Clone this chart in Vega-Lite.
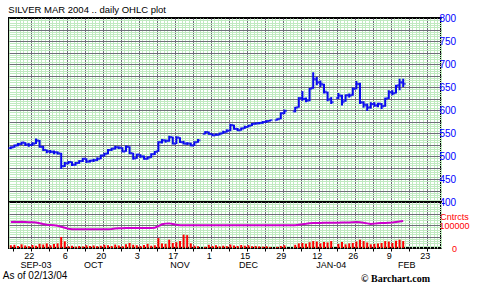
{
  "$schema": "https://vega.github.io/schema/vega-lite/v6.json",
  "background": "white",
  "padding": {"left": 1, "top": 3, "right": 0, "bottom": 0},
  "spacing": 0,
  "bounds": "flush",
  "config": {
    "view": {"stroke": "black", "strokeWidth": 2},
    "axis": {"labelFont": "Liberation Sans Narrow, Liberation Sans", "labelFontSize": 10, "title": null},
    "title": {"font": "Liberation Sans", "fontSize": 10, "fontWeight": "normal", "color": "black"}
  },
  "title": {"text": "© Barchart.com", "orient": "bottom", "anchor": "end", "font": "Liberation Serif", "fontWeight": "bold", "fontSize": 10, "offset": -8, "dx": -40},
  "datasets": {
    "px": [
      {"date": "2003-09-15", "open": 517, "high": 521, "low": 515, "close": 519, "volume": 12000, "oi": 113000},
      {"date": "2003-09-16", "open": 519, "high": 525, "low": 518, "close": 523, "volume": 14000, "oi": 114000},
      {"date": "2003-09-17", "open": 523, "high": 528, "low": 521, "close": 526, "volume": 9000, "oi": 113500},
      {"date": "2003-09-18", "open": 526, "high": 531, "low": 524, "close": 529, "volume": 16000, "oi": 114000},
      {"date": "2003-09-19", "open": 529, "high": 530, "low": 522, "close": 525, "volume": 11000, "oi": 113000},
      {"date": "2003-09-22", "open": 525, "high": 528, "low": 520, "close": 524, "volume": 8000, "oi": 112000},
      {"date": "2003-09-23", "open": 524, "high": 530, "low": 522, "close": 527, "volume": 13000, "oi": 112000},
      {"date": "2003-09-24", "open": 527, "high": 538, "low": 526, "close": 534, "volume": 10000, "oi": 111000},
      {"date": "2003-09-25", "open": 533, "high": 535, "low": 518, "close": 520, "volume": 18000, "oi": 108000},
      {"date": "2003-09-26", "open": 520, "high": 522, "low": 511, "close": 513, "volume": 15000, "oi": 104000},
      {"date": "2003-09-29", "open": 513, "high": 514, "low": 506, "close": 510, "volume": 20000, "oi": 101000},
      {"date": "2003-09-30", "open": 510, "high": 513, "low": 506, "close": 509, "volume": 12000, "oi": 100000},
      {"date": "2003-10-01", "open": 509, "high": 512, "low": 504, "close": 508, "volume": 17000, "oi": 99000},
      {"date": "2003-10-02", "open": 508, "high": 510, "low": 503, "close": 506, "volume": 20000, "oi": 97000},
      {"date": "2003-10-03", "open": 505, "high": 507, "low": 472, "close": 478, "volume": 48000, "oi": 92000},
      {"date": "2003-10-06", "open": 478, "high": 487, "low": 476, "close": 484, "volume": 29000, "oi": 88000},
      {"date": "2003-10-07", "open": 484, "high": 489, "low": 482, "close": 487, "volume": 8000, "oi": 84000},
      {"date": "2003-10-08", "open": 487, "high": 488, "low": 478, "close": 481, "volume": 10000, "oi": 82000},
      {"date": "2003-10-09", "open": 481, "high": 487, "low": 479, "close": 485, "volume": 6000, "oi": 81000},
      {"date": "2003-10-10", "open": 485, "high": 491, "low": 483, "close": 489, "volume": 9000, "oi": 81000},
      {"date": "2003-10-13", "open": 489, "high": 496, "low": 487, "close": 494, "volume": 7000, "oi": 81000},
      {"date": "2003-10-14", "open": 494, "high": 495, "low": 485, "close": 488, "volume": 12000, "oi": 81000},
      {"date": "2003-10-15", "open": 488, "high": 492, "low": 486, "close": 490, "volume": 9000, "oi": 81000},
      {"date": "2003-10-16", "open": 490, "high": 494, "low": 487, "close": 491, "volume": 11000, "oi": 81000},
      {"date": "2003-10-17", "open": 491, "high": 497, "low": 489, "close": 494, "volume": 8000, "oi": 81000},
      {"date": "2003-10-20", "open": 494, "high": 503, "low": 493, "close": 501, "volume": 10000, "oi": 81500},
      {"date": "2003-10-21", "open": 501, "high": 507, "low": 499, "close": 505, "volume": 14000, "oi": 81500},
      {"date": "2003-10-22", "open": 505, "high": 515, "low": 504, "close": 513, "volume": 12000, "oi": 82000},
      {"date": "2003-10-23", "open": 513, "high": 518, "low": 511, "close": 516, "volume": 9000, "oi": 83000},
      {"date": "2003-10-24", "open": 516, "high": 522, "low": 514, "close": 519, "volume": 15000, "oi": 85000},
      {"date": "2003-10-27", "open": 519, "high": 521, "low": 515, "close": 518, "volume": 11000, "oi": 86000},
      {"date": "2003-10-28", "open": 518, "high": 519, "low": 508, "close": 510, "volume": 8000, "oi": 86000},
      {"date": "2003-10-29", "open": 510, "high": 523, "low": 509, "close": 520, "volume": 16000, "oi": 87000},
      {"date": "2003-10-30", "open": 520, "high": 521, "low": 504, "close": 506, "volume": 22000, "oi": 87000},
      {"date": "2003-10-31", "open": 506, "high": 507, "low": 492, "close": 495, "volume": 14000, "oi": 87000},
      {"date": "2003-11-03", "open": 495, "high": 505, "low": 494, "close": 503, "volume": 12000, "oi": 87000},
      {"date": "2003-11-04", "open": 503, "high": 504, "low": 496, "close": 499, "volume": 9000, "oi": 87000},
      {"date": "2003-11-05", "open": 499, "high": 501, "low": 492, "close": 494, "volume": 13000, "oi": 87000},
      {"date": "2003-11-06", "open": 494, "high": 499, "low": 492, "close": 497, "volume": 18000, "oi": 87000},
      {"date": "2003-11-07", "open": 497, "high": 506, "low": 496, "close": 504, "volume": 10000, "oi": 87000},
      {"date": "2003-11-10", "open": 504, "high": 511, "low": 502, "close": 509, "volume": 12000, "oi": 88000},
      {"date": "2003-11-11", "open": 510, "high": 532, "low": 509, "close": 530, "volume": 43000, "oi": 95000},
      {"date": "2003-11-12", "open": 530, "high": 537, "low": 527, "close": 534, "volume": 20000, "oi": 103000},
      {"date": "2003-11-13", "open": 534, "high": 536, "low": 529, "close": 533, "volume": 18000, "oi": 106000},
      {"date": "2003-11-14", "open": 533, "high": 544, "low": 531, "close": 541, "volume": 36000, "oi": 107000},
      {"date": "2003-11-17", "open": 541, "high": 542, "low": 525, "close": 527, "volume": 22000, "oi": 104000},
      {"date": "2003-11-18", "open": 527, "high": 543, "low": 526, "close": 540, "volume": 25000, "oi": 101000},
      {"date": "2003-11-19", "open": 540, "high": 541, "low": 528, "close": 530, "volume": 30000, "oi": 99000},
      {"date": "2003-11-20", "open": 530, "high": 533, "low": 525, "close": 527, "volume": 58000, "oi": 99000},
      {"date": "2003-11-21", "open": 527, "high": 530, "low": 524, "close": 527, "volume": 56000, "oi": 98500},
      {"date": "2003-11-24", "open": 527, "high": 529, "low": 521, "close": 523, "volume": 20000, "oi": 98500},
      {"date": "2003-11-25", "open": 523, "high": 532, "low": 522, "close": 530, "volume": 10000, "oi": 98500},
      {"date": "2003-11-26", "open": 530, "high": 537, "low": 529, "close": 534, "volume": 8000, "oi": 98500},
      {"date": "2003-11-28", "open": 548, "high": 554, "low": 547, "close": 552, "volume": 5000, "oi": 98500},
      {"date": "2003-12-01", "open": 552, "high": 553, "low": 546, "close": 548, "volume": 14000, "oi": 98500},
      {"date": "2003-12-02", "open": 548, "high": 549, "low": 543, "close": 545, "volume": 9000, "oi": 98500},
      {"date": "2003-12-03", "open": 545, "high": 549, "low": 544, "close": 546, "volume": 12000, "oi": 98500},
      {"date": "2003-12-04", "open": 546, "high": 551, "low": 545, "close": 549, "volume": 7000, "oi": 98500},
      {"date": "2003-12-05", "open": 549, "high": 555, "low": 548, "close": 552, "volume": 10000, "oi": 98500},
      {"date": "2003-12-08", "open": 552, "high": 558, "low": 551, "close": 555, "volume": 8000, "oi": 98500},
      {"date": "2003-12-09", "open": 555, "high": 570, "low": 554, "close": 567, "volume": 15000, "oi": 98500},
      {"date": "2003-12-10", "open": 567, "high": 568, "low": 557, "close": 559, "volume": 11000, "oi": 98500},
      {"date": "2003-12-11", "open": 559, "high": 561, "low": 554, "close": 556, "volume": 9000, "oi": 98500},
      {"date": "2003-12-12", "open": 556, "high": 562, "low": 555, "close": 560, "volume": 13000, "oi": 98500},
      {"date": "2003-12-15", "open": 560, "high": 566, "low": 559, "close": 563, "volume": 10000, "oi": 98500},
      {"date": "2003-12-16", "open": 563, "high": 568, "low": 562, "close": 566, "volume": 12000, "oi": 98500},
      {"date": "2003-12-17", "open": 566, "high": 572, "low": 565, "close": 570, "volume": 8000, "oi": 98500},
      {"date": "2003-12-18", "open": 570, "high": 573, "low": 568, "close": 571, "volume": 9000, "oi": 98500},
      {"date": "2003-12-19", "open": 571, "high": 574, "low": 569, "close": 572, "volume": 7000, "oi": 98500},
      {"date": "2003-12-22", "open": 572, "high": 576, "low": 570, "close": 574, "volume": 6000, "oi": 98500},
      {"date": "2003-12-23", "open": 574, "high": 578, "low": 572, "close": 576, "volume": 8000, "oi": 98500},
      {"date": "2003-12-24", "open": 576, "high": 579, "low": 575, "close": 578, "volume": 4000, "oi": 98500},
      {"date": "2003-12-26", "open": 578, "high": 582, "low": 577, "close": 580, "volume": 5000, "oi": 98500},
      {"date": "2003-12-29", "open": 581, "high": 595, "low": 580, "close": 593, "volume": 9000, "oi": 98500},
      {"date": "2003-12-30", "open": 593, "high": 601, "low": 591, "close": 598, "volume": 12000, "oi": 98500},
      {"date": "2004-01-02", "open": 597, "high": 607, "low": 595, "close": 605, "volume": 14000, "oi": 99000},
      {"date": "2004-01-05", "open": 606, "high": 628, "low": 605, "close": 625, "volume": 20000, "oi": 101000},
      {"date": "2004-01-06", "open": 626, "high": 641, "low": 620, "close": 624, "volume": 22000, "oi": 103000},
      {"date": "2004-01-07", "open": 624, "high": 627, "low": 617, "close": 620, "volume": 18000, "oi": 105000},
      {"date": "2004-01-08", "open": 621, "high": 648, "low": 619, "close": 646, "volume": 25000, "oi": 108000},
      {"date": "2004-01-09", "open": 648, "high": 682, "low": 646, "close": 668, "volume": 30000, "oi": 109000},
      {"date": "2004-01-12", "open": 666, "high": 672, "low": 654, "close": 660, "volume": 28000, "oi": 109000},
      {"date": "2004-01-13", "open": 660, "high": 664, "low": 650, "close": 657, "volume": 20000, "oi": 109000},
      {"date": "2004-01-14", "open": 655, "high": 657, "low": 636, "close": 640, "volume": 26000, "oi": 109500},
      {"date": "2004-01-15", "open": 638, "high": 640, "low": 619, "close": 623, "volume": 24000, "oi": 110000},
      {"date": "2004-01-16", "open": 623, "high": 628, "low": 613, "close": 617, "volume": 30000, "oi": 110000},
      {"date": "2004-01-20", "open": 626, "high": 637, "low": 624, "close": 632, "volume": 18000, "oi": 110000},
      {"date": "2004-01-21", "open": 630, "high": 633, "low": 610, "close": 617, "volume": 26000, "oi": 110500},
      {"date": "2004-01-22", "open": 620, "high": 634, "low": 618, "close": 632, "volume": 16000, "oi": 111000},
      {"date": "2004-01-23", "open": 632, "high": 636, "low": 627, "close": 631, "volume": 20000, "oi": 111000},
      {"date": "2004-01-26", "open": 633, "high": 649, "low": 631, "close": 646, "volume": 22000, "oi": 112000},
      {"date": "2004-01-27", "open": 646, "high": 663, "low": 645, "close": 657, "volume": 28000, "oi": 113000},
      {"date": "2004-01-28", "open": 656, "high": 659, "low": 613, "close": 617, "volume": 36000, "oi": 112000},
      {"date": "2004-01-29", "open": 616, "high": 619, "low": 605, "close": 612, "volume": 30000, "oi": 110000},
      {"date": "2004-01-30", "open": 610, "high": 614, "low": 598, "close": 605, "volume": 24000, "oi": 107000},
      {"date": "2004-02-02", "open": 606, "high": 617, "low": 603, "close": 613, "volume": 16000, "oi": 104000},
      {"date": "2004-02-03", "open": 613, "high": 617, "low": 607, "close": 610, "volume": 18000, "oi": 106000},
      {"date": "2004-02-04", "open": 610, "high": 616, "low": 606, "close": 614, "volume": 20000, "oi": 108000},
      {"date": "2004-02-05", "open": 613, "high": 615, "low": 602, "close": 608, "volume": 22000, "oi": 109000},
      {"date": "2004-02-06", "open": 609, "high": 627, "low": 607, "close": 624, "volume": 30000, "oi": 109000},
      {"date": "2004-02-09", "open": 626, "high": 643, "low": 624, "close": 639, "volume": 28000, "oi": 110000},
      {"date": "2004-02-10", "open": 638, "high": 643, "low": 632, "close": 636, "volume": 22000, "oi": 111000},
      {"date": "2004-02-11", "open": 637, "high": 655, "low": 636, "close": 652, "volume": 32000, "oi": 113000},
      {"date": "2004-02-12", "open": 654, "high": 668, "low": 643, "close": 660, "volume": 36000, "oi": 115000},
      {"date": "2004-02-13", "open": 660, "high": 668, "low": 650, "close": 657, "volume": 30000, "oi": 117000}
    ]
  },
  "vconcat": [
    {
      "width": 432,
      "height": 184,
      "data": {"name": "px"},
      "title": {"text": "SILVER MAR 2004 .. daily OHLC plot", "anchor": "start", "offset": -1, "fontSize": 9.5},
      "encoding": {
        "x": {
          "field": "date", "type": "ordinal",
          "scale": {"type": "band", "paddingInner": 0, "paddingOuter": 0, "domain": ["2003-09-15","2003-09-16","2003-09-17","2003-09-18","2003-09-19","2003-09-22","2003-09-23","2003-09-24","2003-09-25","2003-09-26","2003-09-29","2003-09-30","2003-10-01","2003-10-02","2003-10-03","2003-10-06","2003-10-07","2003-10-08","2003-10-09","2003-10-10","2003-10-13","2003-10-14","2003-10-15","2003-10-16","2003-10-17","2003-10-20","2003-10-21","2003-10-22","2003-10-23","2003-10-24","2003-10-27","2003-10-28","2003-10-29","2003-10-30","2003-10-31","2003-11-03","2003-11-04","2003-11-05","2003-11-06","2003-11-07","2003-11-10","2003-11-11","2003-11-12","2003-11-13","2003-11-14","2003-11-17","2003-11-18","2003-11-19","2003-11-20","2003-11-21","2003-11-24","2003-11-25","2003-11-26","2003-11-27","2003-11-28","2003-12-01","2003-12-02","2003-12-03","2003-12-04","2003-12-05","2003-12-08","2003-12-09","2003-12-10","2003-12-11","2003-12-12","2003-12-15","2003-12-16","2003-12-17","2003-12-18","2003-12-19","2003-12-22","2003-12-23","2003-12-24","2003-12-25","2003-12-26","2003-12-29","2003-12-30","2003-12-31","2004-01-01","2004-01-02","2004-01-05","2004-01-06","2004-01-07","2004-01-08","2004-01-09","2004-01-12","2004-01-13","2004-01-14","2004-01-15","2004-01-16","2004-01-19","2004-01-20","2004-01-21","2004-01-22","2004-01-23","2004-01-26","2004-01-27","2004-01-28","2004-01-29","2004-01-30","2004-02-02","2004-02-03","2004-02-04","2004-02-05","2004-02-06","2004-02-09","2004-02-10","2004-02-11","2004-02-12","2004-02-13","2004-02-16","2004-02-17","2004-02-18","2004-02-19","2004-02-20","2004-02-23","2004-02-24","2004-02-25","2004-02-26","2004-02-27"]},
          "axis": {
            "orient": "bottom", "labels": false, "ticks": false, "domain": false, "grid": true, "tickBand": "extent",
            "gridColor": {"condition": {"test": "utcday(datum.value) === 1", "value": "#6e6e78"}, "value": "#c0eac0"},
            "gridOpacity": {"condition": {"test": "datum.value === '2003-09-15'", "value": 0}, "value": 1},
            "gridWidth": 1
          }
        }
      },
      "layer": [
        {
          "mark": {"type": "rule", "color": "#0a0af0", "strokeWidth": 2},
          "encoding": {
            "y": {
              "field": "low", "type": "quantitative",
              "scale": {"domain": [400, 800], "nice": false, "zero": false},
              "axis": {
                "orient": "right", "ticks": false, "domain": false, "grid": true, "tickCount": 1000, "format": "d",
                "values": [400,405,410,415,420,425,430,435,440,445,450,455,460,465,470,475,480,485,490,495,500,505,510,515,520,525,530,535,540,545,550,555,560,565,570,575,580,585,590,595,600,605,610,615,620,625,630,635,640,645,650,655,660,665,670,675,680,685,690,695,700,705,710,715,720,725,730,735,740,745,750,755,760,765,770,775,780,785,790,795,800],
                "labelExpr": "datum.value % 50 === 0 ? datum.label : ''",
                "labelOverlap": false, "labelColor": "#0000ff", "labelAlign": "left", "labelPadding": -2,
                "gridColor": {"condition": {"test": "datum.value % 25 === 0", "value": "#6e6e78"}, "value": "#c0eac0"},
                "gridOpacity": {"condition": {"test": "datum.value === 400 || datum.value === 800", "value": 0}, "value": 1}
              }
            },
            "y2": {"field": "high"}
          }
        },
        {
          "mark": {"type": "tick", "color": "#0a0af0", "size": 2, "thickness": 2, "xOffset": -1.5},
          "encoding": {"y": {"field": "open", "type": "quantitative"}}
        },
        {
          "mark": {"type": "tick", "color": "#0a0af0", "size": 2, "thickness": 2, "xOffset": 1.5},
          "encoding": {"y": {"field": "close", "type": "quantitative"}}
        }
      ]
    },
    {
      "width": 432,
      "height": 46,
      "data": {"name": "px"},
      "title": {"text": "As of 02/13/04", "orient": "bottom", "anchor": "start", "offset": 2, "dx": -4},
      "resolve": {"axis": {"x": "independent"}},
      "layer": [
        {
          "mark": {"type": "bar", "color": "#ff0000", "width": {"band": 0.55}},
          "encoding": {
            "x": {
              "field": "date", "type": "ordinal",
              "scale": {"type": "band", "paddingInner": 0, "paddingOuter": 0, "domain": ["2003-09-15","2003-09-16","2003-09-17","2003-09-18","2003-09-19","2003-09-22","2003-09-23","2003-09-24","2003-09-25","2003-09-26","2003-09-29","2003-09-30","2003-10-01","2003-10-02","2003-10-03","2003-10-06","2003-10-07","2003-10-08","2003-10-09","2003-10-10","2003-10-13","2003-10-14","2003-10-15","2003-10-16","2003-10-17","2003-10-20","2003-10-21","2003-10-22","2003-10-23","2003-10-24","2003-10-27","2003-10-28","2003-10-29","2003-10-30","2003-10-31","2003-11-03","2003-11-04","2003-11-05","2003-11-06","2003-11-07","2003-11-10","2003-11-11","2003-11-12","2003-11-13","2003-11-14","2003-11-17","2003-11-18","2003-11-19","2003-11-20","2003-11-21","2003-11-24","2003-11-25","2003-11-26","2003-11-27","2003-11-28","2003-12-01","2003-12-02","2003-12-03","2003-12-04","2003-12-05","2003-12-08","2003-12-09","2003-12-10","2003-12-11","2003-12-12","2003-12-15","2003-12-16","2003-12-17","2003-12-18","2003-12-19","2003-12-22","2003-12-23","2003-12-24","2003-12-25","2003-12-26","2003-12-29","2003-12-30","2003-12-31","2004-01-01","2004-01-02","2004-01-05","2004-01-06","2004-01-07","2004-01-08","2004-01-09","2004-01-12","2004-01-13","2004-01-14","2004-01-15","2004-01-16","2004-01-19","2004-01-20","2004-01-21","2004-01-22","2004-01-23","2004-01-26","2004-01-27","2004-01-28","2004-01-29","2004-01-30","2004-02-02","2004-02-03","2004-02-04","2004-02-05","2004-02-06","2004-02-09","2004-02-10","2004-02-11","2004-02-12","2004-02-13","2004-02-16","2004-02-17","2004-02-18","2004-02-19","2004-02-20","2004-02-23","2004-02-24","2004-02-25","2004-02-26","2004-02-27"]},
              "axis": {
                "orient": "bottom", "domain": false, "grid": true, "tickBand": "extent",
                "labelAngle": 0, "labelOverlap": false, "labelPadding": 0, "labelColor": "black", "labelFontSize": 9,
                "labelExpr": "{'2003-09-22':'22','2003-10-06':'6','2003-10-20':'20','2003-11-03':'3','2003-11-17':'17','2003-12-01':'1','2003-12-15':'15','2003-12-29':'29','2004-01-12':'12','2004-01-26':'26','2004-02-09':'9','2004-02-23':'23'}[datum.value] || ''",
                "tickSize": 3, "tickColor": "black", "tickWidth": 1,
                "tickOpacity": {"condition": {"test": "utcday(datum.value) === 1", "value": 1}, "value": 0},
                "gridColor": {"condition": {"test": "utcday(datum.value) === 1", "value": "#6e6e78"}, "value": "#c0eac0"},
                "gridOpacity": {"condition": {"test": "datum.value === '2003-09-15'", "value": 0}, "value": 1}
              }
            },
            "y": {
              "field": "volume", "type": "quantitative",
              "scale": {"domain": [0, 200000], "nice": false},
              "axis": {
                "orient": "right", "ticks": false, "domain": false, "grid": true, "tickCount": 1000,
                "values": [0,10000,20000,30000,40000,50000,60000,70000,80000,90000,100000,110000,120000,130000,137000,140000,150000,160000,170000,180000,190000,200000],
                "labelExpr": "datum.value === 137000 ? 'Cntrcts' : (datum.value === 100000 ? '100000' : (datum.value === 0 ? '0' : ''))",
                "labelOverlap": false, "labelColor": "#ff0000", "labelAlign": "center", "labelPadding": 13, "labelFontSize": 9,
                "labelBaseline": "middle",
                "gridColor": {"condition": {"test": "datum.value % 50000 === 0", "value": "#6e6e78"}, "value": "#c0eac0"},
                "gridOpacity": {"condition": {"test": "datum.value === 0 || datum.value === 200000 || datum.value === 137000", "value": 0}, "value": 1}
              }
            }
          }
        },
        {
          "mark": {"type": "line", "color": "#cc00cc", "strokeWidth": 2},
          "encoding": {
            "x": {
              "field": "date", "type": "ordinal",
              "axis": {
                "orient": "bottom", "domain": false, "grid": false, "ticks": false,
                "values": ["2003-09-24", "2003-10-16", "2003-11-19", "2003-12-16", "2004-01-16", "2004-02-16"],
                "labelAngle": 0, "labelOverlap": false, "labelPadding": 12, "labelColor": "black", "labelFontSize": 9,
                "labelExpr": "{'2003-09-24':'SEP-03','2003-10-16':'OCT','2003-11-19':'NOV','2003-12-16':'DEC','2004-01-16':'JAN-04','2004-02-16':'FEB'}[datum.value]"
              }
            },
            "y": {"field": "oi", "type": "quantitative"}
          }
        }
      ]
    }
  ]
}
